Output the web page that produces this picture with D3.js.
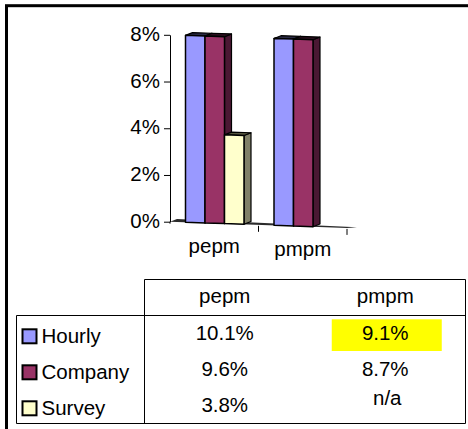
<!DOCTYPE html>
<html><head><meta charset="utf-8">
<script src="https://cdn.jsdelivr.net/npm/d3@7"></script>
<style>
body{margin:0;background:#fff}
svg{display:block}
text{font-family:"Liberation Sans",Arial,sans-serif;fill:#000}
</style>
</head><body><svg id="c" width="468" height="429"></svg>
<script>
// ---- data ----
const categories = ["pepm", "pmpm"];
const seriesNames = ["Hourly", "Company", "Survey"];
const hourly = [10.1, 9.1];
const company = [9.6, 8.7];
const survey = [3.8, null];
const yTicks = [0, 2, 4, 6, 8];
const highlighted = [["Hourly", "pmpm"]];

const seriesValues = {Hourly: hourly, Company: company, Survey: survey};
const frontColor = {Hourly: "#9999FF", Company: "#993366", Survey: "#FFFFCC"};
const sideColor = {Hourly: "#4d4d80", Company: "#4a1833", Survey: "#808068"};
const topColor = {Hourly: "#2a2a44", Company: "#2a0f1e", Survey: "#55553f"};

const svg = d3.select("#c");
const FS = 20.5;

// outer frame
svg.append("rect").attr("x", 6.5).attr("y", 5.7).attr("width", 480).attr("height", 440)
  .attr("fill", "none").attr("stroke", "#000").attr("stroke-width", 3);

// ---- chart ----
const yMax = 8;
const y = d3.scaleLinear().domain([0, yMax]).range([221.7, 34.8]);
const x = d3.scaleBand().domain(categories).range([170, 347]);
const xs = d3.scaleBand().domain(seriesNames).range([15.5, 74]);
const k = 0.035;              // slight perspective slope
const X0 = 170;
const P = (px, py) => [px, py + (px - X0) * k];
const pts = arr => arr.map(p => P(p[0], p[1]).join(",")).join(" ");
const dx = 7, dy = 3;
const y0 = y(0);

const g = svg.append("g");

// floor
g.append("polygon")
  .attr("points", pts([[X0, y0], [x.range()[1], y0], [x.range()[1] + dx + 3, y0 - 1], [X0 + dx, y0 - dy]]))
  .attr("fill", "#2b2b2b");

// x ticks
const xTickPos = categories.slice(1).map(c => x(c)).concat([x.range()[1]]);
g.selectAll("line.xt").data(xTickPos).enter().append("line")
  .attr("x1", d => d).attr("x2", d => d)
  .attr("y1", d => P(d, y0 + 1)[1]).attr("y2", d => P(d, y0 + 7)[1])
  .attr("stroke", "#000").attr("stroke-width", 1);

// bars
const bars = [];
seriesNames.forEach(s => {
  categories.forEach((c, i) => {
    const v = seriesValues[s][i];
    if (v == null) return;
    bars.push({s, c, v: Math.min(v, yMax)});
  });
});
const bg = g.selectAll("g.bar").data(bars).enter().append("g");
bg.each(function(d) {
  const el = d3.select(this);
  const xl = x(d.c) + xs(d.s), xr = xl + xs.bandwidth();
  const yt = y(d.v);
  // side
  el.append("polygon").attr("points", pts([[xr, yt], [xr + dx, yt - dy], [xr + dx, y0 - dy], [xr, y0]]))
    .attr("fill", sideColor[d.s]).attr("stroke", "#000").attr("stroke-width", 1.2).attr("stroke-linejoin", "round");
  // top
  el.append("polygon").attr("points", pts([[xl, yt], [xl + dx, yt - dy], [xr + dx, yt - dy], [xr, yt]]))
    .attr("fill", topColor[d.s]).attr("stroke", "#000").attr("stroke-width", 1.2).attr("stroke-linejoin", "round");
  // front
  el.append("polygon").attr("points", pts([[xl, yt], [xr, yt], [xr, y0], [xl, y0]]))
    .attr("fill", frontColor[d.s]).attr("stroke", "#000").attr("stroke-width", 1.5).attr("stroke-linejoin", "round");
});

// y axis
const ya = svg.append("g").attr("transform", `translate(${X0},0)`)
  .call(d3.axisLeft(y).tickValues(yTicks).tickFormat(d => d + "%").tickSize(6).tickSizeOuter(0).tickPadding(4));
ya.select(".domain").attr("stroke", "#000");
ya.selectAll(".tick line").attr("stroke", "#000");
ya.selectAll(".tick text").attr("font-size", FS).attr("dy", "0.27em").attr("font-family", '"Liberation Sans",Arial,sans-serif').attr("fill", "#000");
ya.append("line").attr("x1", 0).attr("x2", 0).attr("y1", y0).attr("y2", y0 + 2).attr("stroke", "#000");

// x labels
svg.selectAll("text.xl").data(categories).enter().append("text")
  .attr("x", d => x(d) + x.bandwidth() / 2)
  .attr("y", d => P(x(d) + x.bandwidth() / 2, y0 + 29.8)[1])
  .attr("text-anchor", "middle").attr("font-size", FS).text(d => d);

// ---- data table ----
const tL = 16.5, tC = 144.5, tR = 465.5, tTop = 279.5, tHead = 315.5, tBot = 423.5;
const col = d3.scaleBand().domain(categories).range([tC, tR]);
const row = d3.scaleBand().domain(seriesNames).range([tHead, tBot]);
const tg = svg.append("g").attr("stroke", "#000").attr("stroke-width", 1);
[[tC, tTop, tR, tTop], [tL, tHead, tR, tHead], [tL, tBot, tR, tBot],
 [tC, tTop, tC, tBot], [tR, tTop, tR, tBot], [tL, tHead, tL, tBot]].forEach(l => {
  tg.append("line").attr("x1", l[0]).attr("y1", l[1]).attr("x2", l[2]).attr("y2", l[3]);
});

// highlight
svg.selectAll("rect.hl").data(highlighted).enter().append("rect")
  .attr("x", d => col(d[1]) + col.bandwidth() / 2 - 53.5)
  .attr("y", d => row(d[0]) + 3.8).attr("width", 110).attr("height", 31.7)
  .attr("fill", "#FFFF00");

// headers
svg.selectAll("text.hd").data(categories).enter().append("text")
  .attr("x", d => col(d) + col.bandwidth() / 2).attr("y", tTop + 23.5)
  .attr("text-anchor", "middle").attr("font-size", FS).text(d => d);

// row labels + keys
seriesNames.forEach(s => {
  svg.append("rect").attr("x", 22.5).attr("y", row(s) + 13.8).attr("width", 14).attr("height", 14)
    .attr("fill", frontColor[s]).attr("stroke", "#000").attr("stroke-width", 2);
  svg.append("text").attr("x", 41.5).attr("y", row(s) + 27.8).attr("font-size", FS).text(s);
  categories.forEach((c, i) => {
    const v = seriesValues[s][i];
    svg.append("text").attr("x", col(c) + col.bandwidth() / 2 + (v == null ? 2 : 0))
      .attr("y", row(s) + (v == null ? 17.5 : 24.8))
      .attr("text-anchor", "middle").attr("font-size", FS)
      .text(v == null ? "n/a" : d3.format(".1f")(v) + "%");
  });
});
</script>
</body></html>
